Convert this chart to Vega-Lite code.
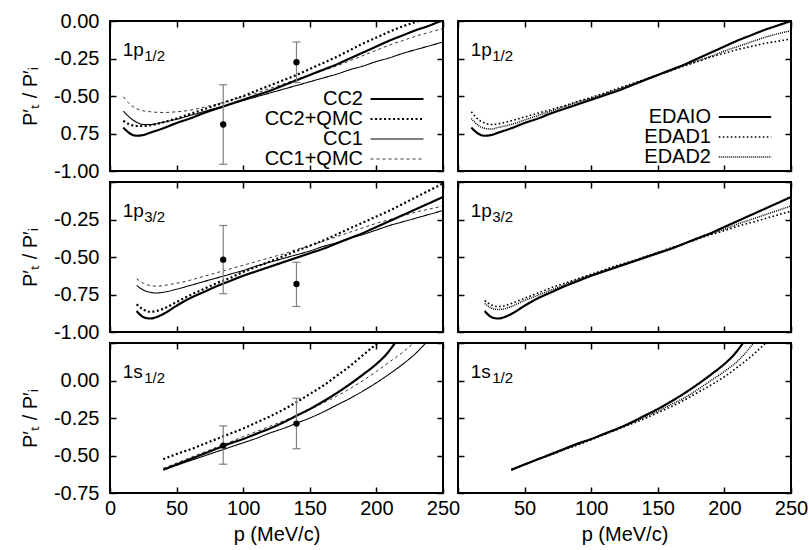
{
"$schema": "https://vega.github.io/schema/vega-lite/v6.json",
"padding": {"left": 19, "top": 10, "right": 8, "bottom": 4},
"config": {
  "locale": {"number": {"decimal": ".", "thousands": ",", "grouping": [3], "currency": ["$", ""], "minus": "-"}},
  "view": {"stroke": "black", "strokeWidth": 2},
  "axis": {"grid": false, "domain": false, "tickColor": "black", "tickWidth": 1.5, "tickSize": -6, "labelFont": "Liberation Sans", "labelFontSize": 20, "labelColor": "black", "titleFont": "Liberation Sans", "titleFontSize": 20, "titleFontWeight": "normal", "titleColor": "black", "labelFlush": false, "labelOverlap": false, "labelPadding": 17, "titlePadding": 13}
},
"datasets": {
"labels": [
{"panel":"a","main":"1p","sub":"1/2"},{"panel":"b","main":"1p","sub":"1/2"},
{"panel":"c","main":"1p","sub":"3/2"},{"panel":"d","main":"1p","sub":"3/2"},
{"panel":"e","main":"1s","sub":"1/2"},{"panel":"f","main":"1s","sub":"1/2"}
],
"pts": [
{"panel":"a","p":85,"r":-0.69,"lo":-0.955,"hi":-0.425},
{"panel":"a","p":140,"r":-0.275,"lo":-0.41,"hi":-0.14},
{"panel":"c","p":85,"r":-0.518,"lo":-0.745,"hi":-0.29},
{"panel":"c","p":140,"r":-0.68,"lo":-0.83,"hi":-0.535},
{"panel":"e","p":85,"r":-0.434,"lo":-0.558,"hi":-0.303},
{"panel":"e","p":140,"r":-0.287,"lo":-0.455,"hi":-0.118}
],
"curves": [
{"panel":"a","series":"CC1+QMC","p":10,"r":-0.505},{"panel":"a","series":"CC1+QMC","p":15,"r":-0.555},{"panel":"a","series":"CC1+QMC","p":20,"r":-0.585},{"panel":"a","series":"CC1+QMC","p":30,"r":-0.605},{"panel":"a","series":"CC1+QMC","p":40,"r":-0.61},{"panel":"a","series":"CC1+QMC","p":50,"r":-0.605},{"panel":"a","series":"CC1+QMC","p":60,"r":-0.595},{"panel":"a","series":"CC1+QMC","p":70,"r":-0.575},{"panel":"a","series":"CC1+QMC","p":80,"r":-0.555},{"panel":"a","series":"CC1+QMC","p":90,"r":-0.53},{"panel":"a","series":"CC1+QMC","p":100,"r":-0.505},{"panel":"a","series":"CC1+QMC","p":110,"r":-0.48},{"panel":"a","series":"CC1+QMC","p":120,"r":-0.45},{"panel":"a","series":"CC1+QMC","p":130,"r":-0.42},{"panel":"a","series":"CC1+QMC","p":140,"r":-0.39},{"panel":"a","series":"CC1+QMC","p":150,"r":-0.36},{"panel":"a","series":"CC1+QMC","p":160,"r":-0.33},{"panel":"a","series":"CC1+QMC","p":170,"r":-0.3},{"panel":"a","series":"CC1+QMC","p":180,"r":-0.265},{"panel":"a","series":"CC1+QMC","p":190,"r":-0.23},{"panel":"a","series":"CC1+QMC","p":200,"r":-0.195},{"panel":"a","series":"CC1+QMC","p":210,"r":-0.16},{"panel":"a","series":"CC1+QMC","p":220,"r":-0.13},{"panel":"a","series":"CC1+QMC","p":230,"r":-0.1},{"panel":"a","series":"CC1+QMC","p":240,"r":-0.075},{"panel":"a","series":"CC1+QMC","p":250,"r":-0.05},
{"panel":"a","series":"CC1","p":10,"r":-0.6},{"panel":"a","series":"CC1","p":15,"r":-0.645},{"panel":"a","series":"CC1","p":20,"r":-0.675},{"panel":"a","series":"CC1","p":25,"r":-0.69},{"panel":"a","series":"CC1","p":30,"r":-0.69},{"panel":"a","series":"CC1","p":40,"r":-0.675},{"panel":"a","series":"CC1","p":50,"r":-0.655},{"panel":"a","series":"CC1","p":60,"r":-0.63},{"panel":"a","series":"CC1","p":70,"r":-0.605},{"panel":"a","series":"CC1","p":80,"r":-0.58},{"panel":"a","series":"CC1","p":90,"r":-0.555},{"panel":"a","series":"CC1","p":100,"r":-0.53},{"panel":"a","series":"CC1","p":110,"r":-0.505},{"panel":"a","series":"CC1","p":120,"r":-0.48},{"panel":"a","series":"CC1","p":130,"r":-0.455},{"panel":"a","series":"CC1","p":140,"r":-0.43},{"panel":"a","series":"CC1","p":150,"r":-0.405},{"panel":"a","series":"CC1","p":160,"r":-0.38},{"panel":"a","series":"CC1","p":170,"r":-0.355},{"panel":"a","series":"CC1","p":180,"r":-0.325},{"panel":"a","series":"CC1","p":190,"r":-0.3},{"panel":"a","series":"CC1","p":200,"r":-0.27},{"panel":"a","series":"CC1","p":210,"r":-0.245},{"panel":"a","series":"CC1","p":220,"r":-0.215},{"panel":"a","series":"CC1","p":230,"r":-0.19},{"panel":"a","series":"CC1","p":240,"r":-0.165},{"panel":"a","series":"CC1","p":250,"r":-0.14},
{"panel":"a","series":"CC2+QMC","p":10,"r":-0.665},{"panel":"a","series":"CC2+QMC","p":15,"r":-0.69},{"panel":"a","series":"CC2+QMC","p":20,"r":-0.7},{"panel":"a","series":"CC2+QMC","p":25,"r":-0.7},{"panel":"a","series":"CC2+QMC","p":30,"r":-0.695},{"panel":"a","series":"CC2+QMC","p":40,"r":-0.675},{"panel":"a","series":"CC2+QMC","p":50,"r":-0.65},{"panel":"a","series":"CC2+QMC","p":60,"r":-0.62},{"panel":"a","series":"CC2+QMC","p":70,"r":-0.59},{"panel":"a","series":"CC2+QMC","p":80,"r":-0.56},{"panel":"a","series":"CC2+QMC","p":90,"r":-0.53},{"panel":"a","series":"CC2+QMC","p":100,"r":-0.5},{"panel":"a","series":"CC2+QMC","p":110,"r":-0.465},{"panel":"a","series":"CC2+QMC","p":120,"r":-0.43},{"panel":"a","series":"CC2+QMC","p":130,"r":-0.395},{"panel":"a","series":"CC2+QMC","p":140,"r":-0.36},{"panel":"a","series":"CC2+QMC","p":150,"r":-0.32},{"panel":"a","series":"CC2+QMC","p":160,"r":-0.28},{"panel":"a","series":"CC2+QMC","p":170,"r":-0.24},{"panel":"a","series":"CC2+QMC","p":180,"r":-0.195},{"panel":"a","series":"CC2+QMC","p":190,"r":-0.15},{"panel":"a","series":"CC2+QMC","p":200,"r":-0.11},{"panel":"a","series":"CC2+QMC","p":210,"r":-0.07},{"panel":"a","series":"CC2+QMC","p":220,"r":-0.035},{"panel":"a","series":"CC2+QMC","p":232,"r":0},
{"panel":"a","series":"CC2","p":10,"r":-0.71},{"panel":"a","series":"CC2","p":15,"r":-0.75},{"panel":"a","series":"CC2","p":20,"r":-0.765},{"panel":"a","series":"CC2","p":25,"r":-0.76},{"panel":"a","series":"CC2","p":30,"r":-0.745},{"panel":"a","series":"CC2","p":40,"r":-0.715},{"panel":"a","series":"CC2","p":50,"r":-0.68},{"panel":"a","series":"CC2","p":60,"r":-0.65},{"panel":"a","series":"CC2","p":70,"r":-0.615},{"panel":"a","series":"CC2","p":80,"r":-0.585},{"panel":"a","series":"CC2","p":90,"r":-0.555},{"panel":"a","series":"CC2","p":100,"r":-0.525},{"panel":"a","series":"CC2","p":110,"r":-0.495},{"panel":"a","series":"CC2","p":120,"r":-0.465},{"panel":"a","series":"CC2","p":130,"r":-0.43},{"panel":"a","series":"CC2","p":140,"r":-0.395},{"panel":"a","series":"CC2","p":150,"r":-0.36},{"panel":"a","series":"CC2","p":160,"r":-0.325},{"panel":"a","series":"CC2","p":170,"r":-0.29},{"panel":"a","series":"CC2","p":180,"r":-0.25},{"panel":"a","series":"CC2","p":190,"r":-0.21},{"panel":"a","series":"CC2","p":200,"r":-0.17},{"panel":"a","series":"CC2","p":210,"r":-0.13},{"panel":"a","series":"CC2","p":220,"r":-0.095},{"panel":"a","series":"CC2","p":230,"r":-0.06},{"panel":"a","series":"CC2","p":240,"r":-0.03},{"panel":"a","series":"CC2","p":248,"r":0},

{"panel":"b","series":"EDAD2","p":10,"r":-0.65},{"panel":"b","series":"EDAD2","p":15,"r":-0.695},{"panel":"b","series":"EDAD2","p":20,"r":-0.715},{"panel":"b","series":"EDAD2","p":25,"r":-0.72},{"panel":"b","series":"EDAD2","p":30,"r":-0.71},{"panel":"b","series":"EDAD2","p":40,"r":-0.69},{"panel":"b","series":"EDAD2","p":50,"r":-0.66},{"panel":"b","series":"EDAD2","p":60,"r":-0.63},{"panel":"b","series":"EDAD2","p":70,"r":-0.6},{"panel":"b","series":"EDAD2","p":80,"r":-0.57},{"panel":"b","series":"EDAD2","p":90,"r":-0.54},{"panel":"b","series":"EDAD2","p":100,"r":-0.515},{"panel":"b","series":"EDAD2","p":110,"r":-0.485},{"panel":"b","series":"EDAD2","p":120,"r":-0.455},{"panel":"b","series":"EDAD2","p":130,"r":-0.425},{"panel":"b","series":"EDAD2","p":140,"r":-0.39},{"panel":"b","series":"EDAD2","p":150,"r":-0.36},{"panel":"b","series":"EDAD2","p":160,"r":-0.33},{"panel":"b","series":"EDAD2","p":170,"r":-0.295},{"panel":"b","series":"EDAD2","p":180,"r":-0.265},{"panel":"b","series":"EDAD2","p":190,"r":-0.235},{"panel":"b","series":"EDAD2","p":200,"r":-0.2},{"panel":"b","series":"EDAD2","p":210,"r":-0.17},{"panel":"b","series":"EDAD2","p":220,"r":-0.14},{"panel":"b","series":"EDAD2","p":230,"r":-0.11},{"panel":"b","series":"EDAD2","p":240,"r":-0.085},{"panel":"b","series":"EDAD2","p":250,"r":-0.065},
{"panel":"b","series":"EDAD1","p":10,"r":-0.605},{"panel":"b","series":"EDAD1","p":15,"r":-0.655},{"panel":"b","series":"EDAD1","p":20,"r":-0.68},{"panel":"b","series":"EDAD1","p":25,"r":-0.69},{"panel":"b","series":"EDAD1","p":30,"r":-0.685},{"panel":"b","series":"EDAD1","p":40,"r":-0.665},{"panel":"b","series":"EDAD1","p":50,"r":-0.64},{"panel":"b","series":"EDAD1","p":60,"r":-0.615},{"panel":"b","series":"EDAD1","p":70,"r":-0.59},{"panel":"b","series":"EDAD1","p":80,"r":-0.565},{"panel":"b","series":"EDAD1","p":90,"r":-0.535},{"panel":"b","series":"EDAD1","p":100,"r":-0.51},{"panel":"b","series":"EDAD1","p":110,"r":-0.48},{"panel":"b","series":"EDAD1","p":120,"r":-0.45},{"panel":"b","series":"EDAD1","p":130,"r":-0.42},{"panel":"b","series":"EDAD1","p":140,"r":-0.39},{"panel":"b","series":"EDAD1","p":150,"r":-0.36},{"panel":"b","series":"EDAD1","p":160,"r":-0.33},{"panel":"b","series":"EDAD1","p":170,"r":-0.3},{"panel":"b","series":"EDAD1","p":180,"r":-0.27},{"panel":"b","series":"EDAD1","p":190,"r":-0.24},{"panel":"b","series":"EDAD1","p":200,"r":-0.215},{"panel":"b","series":"EDAD1","p":210,"r":-0.19},{"panel":"b","series":"EDAD1","p":220,"r":-0.17},{"panel":"b","series":"EDAD1","p":230,"r":-0.15},{"panel":"b","series":"EDAD1","p":240,"r":-0.135},{"panel":"b","series":"EDAD1","p":250,"r":-0.12},
{"panel":"b","series":"EDAIO","p":10,"r":-0.71},{"panel":"b","series":"EDAIO","p":15,"r":-0.75},{"panel":"b","series":"EDAIO","p":20,"r":-0.765},{"panel":"b","series":"EDAIO","p":25,"r":-0.76},{"panel":"b","series":"EDAIO","p":30,"r":-0.745},{"panel":"b","series":"EDAIO","p":40,"r":-0.715},{"panel":"b","series":"EDAIO","p":50,"r":-0.68},{"panel":"b","series":"EDAIO","p":60,"r":-0.65},{"panel":"b","series":"EDAIO","p":70,"r":-0.615},{"panel":"b","series":"EDAIO","p":80,"r":-0.585},{"panel":"b","series":"EDAIO","p":90,"r":-0.555},{"panel":"b","series":"EDAIO","p":100,"r":-0.525},{"panel":"b","series":"EDAIO","p":110,"r":-0.495},{"panel":"b","series":"EDAIO","p":120,"r":-0.465},{"panel":"b","series":"EDAIO","p":130,"r":-0.43},{"panel":"b","series":"EDAIO","p":140,"r":-0.395},{"panel":"b","series":"EDAIO","p":150,"r":-0.36},{"panel":"b","series":"EDAIO","p":160,"r":-0.325},{"panel":"b","series":"EDAIO","p":170,"r":-0.29},{"panel":"b","series":"EDAIO","p":180,"r":-0.25},{"panel":"b","series":"EDAIO","p":190,"r":-0.21},{"panel":"b","series":"EDAIO","p":200,"r":-0.17},{"panel":"b","series":"EDAIO","p":210,"r":-0.13},{"panel":"b","series":"EDAIO","p":220,"r":-0.095},{"panel":"b","series":"EDAIO","p":230,"r":-0.06},{"panel":"b","series":"EDAIO","p":240,"r":-0.03},{"panel":"b","series":"EDAIO","p":250,"r":0},

{"panel":"c","series":"CC1+QMC","p":20,"r":-0.645},{"panel":"c","series":"CC1+QMC","p":25,"r":-0.675},{"panel":"c","series":"CC1+QMC","p":30,"r":-0.69},{"panel":"c","series":"CC1+QMC","p":35,"r":-0.695},{"panel":"c","series":"CC1+QMC","p":40,"r":-0.69},{"panel":"c","series":"CC1+QMC","p":50,"r":-0.675},{"panel":"c","series":"CC1+QMC","p":60,"r":-0.655},{"panel":"c","series":"CC1+QMC","p":70,"r":-0.63},{"panel":"c","series":"CC1+QMC","p":80,"r":-0.605},{"panel":"c","series":"CC1+QMC","p":90,"r":-0.58},{"panel":"c","series":"CC1+QMC","p":100,"r":-0.555},{"panel":"c","series":"CC1+QMC","p":110,"r":-0.53},{"panel":"c","series":"CC1+QMC","p":120,"r":-0.505},{"panel":"c","series":"CC1+QMC","p":130,"r":-0.48},{"panel":"c","series":"CC1+QMC","p":140,"r":-0.45},{"panel":"c","series":"CC1+QMC","p":150,"r":-0.425},{"panel":"c","series":"CC1+QMC","p":160,"r":-0.395},{"panel":"c","series":"CC1+QMC","p":170,"r":-0.365},{"panel":"c","series":"CC1+QMC","p":180,"r":-0.335},{"panel":"c","series":"CC1+QMC","p":190,"r":-0.305},{"panel":"c","series":"CC1+QMC","p":200,"r":-0.275},{"panel":"c","series":"CC1+QMC","p":210,"r":-0.25},{"panel":"c","series":"CC1+QMC","p":220,"r":-0.225},{"panel":"c","series":"CC1+QMC","p":230,"r":-0.2},{"panel":"c","series":"CC1+QMC","p":240,"r":-0.18},{"panel":"c","series":"CC1+QMC","p":250,"r":-0.16},
{"panel":"c","series":"CC1","p":20,"r":-0.69},{"panel":"c","series":"CC1","p":25,"r":-0.72},{"panel":"c","series":"CC1","p":30,"r":-0.735},{"panel":"c","series":"CC1","p":35,"r":-0.74},{"panel":"c","series":"CC1","p":40,"r":-0.735},{"panel":"c","series":"CC1","p":50,"r":-0.715},{"panel":"c","series":"CC1","p":60,"r":-0.69},{"panel":"c","series":"CC1","p":70,"r":-0.665},{"panel":"c","series":"CC1","p":80,"r":-0.64},{"panel":"c","series":"CC1","p":90,"r":-0.615},{"panel":"c","series":"CC1","p":100,"r":-0.59},{"panel":"c","series":"CC1","p":110,"r":-0.56},{"panel":"c","series":"CC1","p":120,"r":-0.535},{"panel":"c","series":"CC1","p":130,"r":-0.51},{"panel":"c","series":"CC1","p":140,"r":-0.485},{"panel":"c","series":"CC1","p":150,"r":-0.46},{"panel":"c","series":"CC1","p":160,"r":-0.43},{"panel":"c","series":"CC1","p":170,"r":-0.405},{"panel":"c","series":"CC1","p":180,"r":-0.375},{"panel":"c","series":"CC1","p":190,"r":-0.35},{"panel":"c","series":"CC1","p":200,"r":-0.32},{"panel":"c","series":"CC1","p":210,"r":-0.29},{"panel":"c","series":"CC1","p":220,"r":-0.265},{"panel":"c","series":"CC1","p":230,"r":-0.24},{"panel":"c","series":"CC1","p":240,"r":-0.215},{"panel":"c","series":"CC1","p":250,"r":-0.19},
{"panel":"c","series":"CC2+QMC","p":20,"r":-0.815},{"panel":"c","series":"CC2+QMC","p":25,"r":-0.85},{"panel":"c","series":"CC2+QMC","p":30,"r":-0.865},{"panel":"c","series":"CC2+QMC","p":35,"r":-0.86},{"panel":"c","series":"CC2+QMC","p":40,"r":-0.845},{"panel":"c","series":"CC2+QMC","p":50,"r":-0.8},{"panel":"c","series":"CC2+QMC","p":60,"r":-0.755},{"panel":"c","series":"CC2+QMC","p":70,"r":-0.715},{"panel":"c","series":"CC2+QMC","p":80,"r":-0.675},{"panel":"c","series":"CC2+QMC","p":90,"r":-0.64},{"panel":"c","series":"CC2+QMC","p":100,"r":-0.6},{"panel":"c","series":"CC2+QMC","p":110,"r":-0.565},{"panel":"c","series":"CC2+QMC","p":120,"r":-0.53},{"panel":"c","series":"CC2+QMC","p":130,"r":-0.495},{"panel":"c","series":"CC2+QMC","p":140,"r":-0.46},{"panel":"c","series":"CC2+QMC","p":150,"r":-0.425},{"panel":"c","series":"CC2+QMC","p":160,"r":-0.39},{"panel":"c","series":"CC2+QMC","p":170,"r":-0.35},{"panel":"c","series":"CC2+QMC","p":180,"r":-0.31},{"panel":"c","series":"CC2+QMC","p":190,"r":-0.27},{"panel":"c","series":"CC2+QMC","p":200,"r":-0.23},{"panel":"c","series":"CC2+QMC","p":210,"r":-0.19},{"panel":"c","series":"CC2+QMC","p":220,"r":-0.145},{"panel":"c","series":"CC2+QMC","p":230,"r":-0.1},{"panel":"c","series":"CC2+QMC","p":240,"r":-0.055},{"panel":"c","series":"CC2+QMC","p":250,"r":-0.01},
{"panel":"c","series":"CC2","p":20,"r":-0.86},{"panel":"c","series":"CC2","p":25,"r":-0.9},{"panel":"c","series":"CC2","p":30,"r":-0.91},{"panel":"c","series":"CC2","p":35,"r":-0.9},{"panel":"c","series":"CC2","p":40,"r":-0.88},{"panel":"c","series":"CC2","p":50,"r":-0.825},{"panel":"c","series":"CC2","p":60,"r":-0.775},{"panel":"c","series":"CC2","p":70,"r":-0.735},{"panel":"c","series":"CC2","p":80,"r":-0.695},{"panel":"c","series":"CC2","p":90,"r":-0.66},{"panel":"c","series":"CC2","p":100,"r":-0.625},{"panel":"c","series":"CC2","p":110,"r":-0.595},{"panel":"c","series":"CC2","p":120,"r":-0.565},{"panel":"c","series":"CC2","p":130,"r":-0.535},{"panel":"c","series":"CC2","p":140,"r":-0.505},{"panel":"c","series":"CC2","p":150,"r":-0.475},{"panel":"c","series":"CC2","p":160,"r":-0.445},{"panel":"c","series":"CC2","p":170,"r":-0.41},{"panel":"c","series":"CC2","p":180,"r":-0.375},{"panel":"c","series":"CC2","p":190,"r":-0.34},{"panel":"c","series":"CC2","p":200,"r":-0.3},{"panel":"c","series":"CC2","p":210,"r":-0.26},{"panel":"c","series":"CC2","p":220,"r":-0.22},{"panel":"c","series":"CC2","p":230,"r":-0.18},{"panel":"c","series":"CC2","p":240,"r":-0.14},{"panel":"c","series":"CC2","p":250,"r":-0.1},

{"panel":"d","series":"EDAD2","p":20,"r":-0.81},{"panel":"d","series":"EDAD2","p":25,"r":-0.84},{"panel":"d","series":"EDAD2","p":30,"r":-0.85},{"panel":"d","series":"EDAD2","p":35,"r":-0.845},{"panel":"d","series":"EDAD2","p":40,"r":-0.83},{"panel":"d","series":"EDAD2","p":50,"r":-0.79},{"panel":"d","series":"EDAD2","p":60,"r":-0.755},{"panel":"d","series":"EDAD2","p":70,"r":-0.72},{"panel":"d","series":"EDAD2","p":80,"r":-0.685},{"panel":"d","series":"EDAD2","p":90,"r":-0.65},{"panel":"d","series":"EDAD2","p":100,"r":-0.62},{"panel":"d","series":"EDAD2","p":110,"r":-0.59},{"panel":"d","series":"EDAD2","p":120,"r":-0.56},{"panel":"d","series":"EDAD2","p":130,"r":-0.53},{"panel":"d","series":"EDAD2","p":140,"r":-0.5},{"panel":"d","series":"EDAD2","p":150,"r":-0.47},{"panel":"d","series":"EDAD2","p":160,"r":-0.44},{"panel":"d","series":"EDAD2","p":170,"r":-0.41},{"panel":"d","series":"EDAD2","p":180,"r":-0.375},{"panel":"d","series":"EDAD2","p":190,"r":-0.345},{"panel":"d","series":"EDAD2","p":200,"r":-0.315},{"panel":"d","series":"EDAD2","p":210,"r":-0.28},{"panel":"d","series":"EDAD2","p":220,"r":-0.25},{"panel":"d","series":"EDAD2","p":230,"r":-0.22},{"panel":"d","series":"EDAD2","p":240,"r":-0.19},{"panel":"d","series":"EDAD2","p":250,"r":-0.16},
{"panel":"d","series":"EDAD1","p":20,"r":-0.79},{"panel":"d","series":"EDAD1","p":25,"r":-0.82},{"panel":"d","series":"EDAD1","p":30,"r":-0.83},{"panel":"d","series":"EDAD1","p":35,"r":-0.825},{"panel":"d","series":"EDAD1","p":40,"r":-0.81},{"panel":"d","series":"EDAD1","p":50,"r":-0.775},{"panel":"d","series":"EDAD1","p":60,"r":-0.74},{"panel":"d","series":"EDAD1","p":70,"r":-0.705},{"panel":"d","series":"EDAD1","p":80,"r":-0.675},{"panel":"d","series":"EDAD1","p":90,"r":-0.645},{"panel":"d","series":"EDAD1","p":100,"r":-0.615},{"panel":"d","series":"EDAD1","p":110,"r":-0.585},{"panel":"d","series":"EDAD1","p":120,"r":-0.555},{"panel":"d","series":"EDAD1","p":130,"r":-0.53},{"panel":"d","series":"EDAD1","p":140,"r":-0.5},{"panel":"d","series":"EDAD1","p":150,"r":-0.47},{"panel":"d","series":"EDAD1","p":160,"r":-0.44},{"panel":"d","series":"EDAD1","p":170,"r":-0.41},{"panel":"d","series":"EDAD1","p":180,"r":-0.38},{"panel":"d","series":"EDAD1","p":190,"r":-0.35},{"panel":"d","series":"EDAD1","p":200,"r":-0.325},{"panel":"d","series":"EDAD1","p":210,"r":-0.295},{"panel":"d","series":"EDAD1","p":220,"r":-0.27},{"panel":"d","series":"EDAD1","p":230,"r":-0.245},{"panel":"d","series":"EDAD1","p":240,"r":-0.22},{"panel":"d","series":"EDAD1","p":250,"r":-0.195},
{"panel":"d","series":"EDAIO","p":20,"r":-0.86},{"panel":"d","series":"EDAIO","p":25,"r":-0.9},{"panel":"d","series":"EDAIO","p":30,"r":-0.91},{"panel":"d","series":"EDAIO","p":35,"r":-0.9},{"panel":"d","series":"EDAIO","p":40,"r":-0.88},{"panel":"d","series":"EDAIO","p":50,"r":-0.825},{"panel":"d","series":"EDAIO","p":60,"r":-0.775},{"panel":"d","series":"EDAIO","p":70,"r":-0.735},{"panel":"d","series":"EDAIO","p":80,"r":-0.695},{"panel":"d","series":"EDAIO","p":90,"r":-0.66},{"panel":"d","series":"EDAIO","p":100,"r":-0.625},{"panel":"d","series":"EDAIO","p":110,"r":-0.595},{"panel":"d","series":"EDAIO","p":120,"r":-0.565},{"panel":"d","series":"EDAIO","p":130,"r":-0.535},{"panel":"d","series":"EDAIO","p":140,"r":-0.505},{"panel":"d","series":"EDAIO","p":150,"r":-0.475},{"panel":"d","series":"EDAIO","p":160,"r":-0.445},{"panel":"d","series":"EDAIO","p":170,"r":-0.41},{"panel":"d","series":"EDAIO","p":180,"r":-0.375},{"panel":"d","series":"EDAIO","p":190,"r":-0.34},{"panel":"d","series":"EDAIO","p":200,"r":-0.3},{"panel":"d","series":"EDAIO","p":210,"r":-0.26},{"panel":"d","series":"EDAIO","p":220,"r":-0.22},{"panel":"d","series":"EDAIO","p":230,"r":-0.18},{"panel":"d","series":"EDAIO","p":240,"r":-0.14},{"panel":"d","series":"EDAIO","p":250,"r":-0.1},

{"panel":"e","series":"CC1+QMC","p":40,"r":-0.585},{"panel":"e","series":"CC1+QMC","p":50,"r":-0.55},{"panel":"e","series":"CC1+QMC","p":60,"r":-0.515},{"panel":"e","series":"CC1+QMC","p":70,"r":-0.48},{"panel":"e","series":"CC1+QMC","p":80,"r":-0.445},{"panel":"e","series":"CC1+QMC","p":90,"r":-0.41},{"panel":"e","series":"CC1+QMC","p":100,"r":-0.375},{"panel":"e","series":"CC1+QMC","p":110,"r":-0.34},{"panel":"e","series":"CC1+QMC","p":120,"r":-0.305},{"panel":"e","series":"CC1+QMC","p":130,"r":-0.27},{"panel":"e","series":"CC1+QMC","p":140,"r":-0.235},{"panel":"e","series":"CC1+QMC","p":150,"r":-0.195},{"panel":"e","series":"CC1+QMC","p":160,"r":-0.15},{"panel":"e","series":"CC1+QMC","p":170,"r":-0.105},{"panel":"e","series":"CC1+QMC","p":180,"r":-0.055},{"panel":"e","series":"CC1+QMC","p":190,"r":0},{"panel":"e","series":"CC1+QMC","p":200,"r":0.06},{"panel":"e","series":"CC1+QMC","p":210,"r":0.125},{"panel":"e","series":"CC1+QMC","p":220,"r":0.19},{"panel":"e","series":"CC1+QMC","p":228,"r":0.25},
{"panel":"e","series":"CC1","p":40,"r":-0.595},{"panel":"e","series":"CC1","p":50,"r":-0.565},{"panel":"e","series":"CC1","p":60,"r":-0.535},{"panel":"e","series":"CC1","p":70,"r":-0.505},{"panel":"e","series":"CC1","p":80,"r":-0.475},{"panel":"e","series":"CC1","p":90,"r":-0.445},{"panel":"e","series":"CC1","p":100,"r":-0.415},{"panel":"e","series":"CC1","p":110,"r":-0.385},{"panel":"e","series":"CC1","p":120,"r":-0.35},{"panel":"e","series":"CC1","p":130,"r":-0.32},{"panel":"e","series":"CC1","p":140,"r":-0.285},{"panel":"e","series":"CC1","p":150,"r":-0.25},{"panel":"e","series":"CC1","p":160,"r":-0.21},{"panel":"e","series":"CC1","p":170,"r":-0.165},{"panel":"e","series":"CC1","p":180,"r":-0.12},{"panel":"e","series":"CC1","p":190,"r":-0.07},{"panel":"e","series":"CC1","p":200,"r":-0.015},{"panel":"e","series":"CC1","p":210,"r":0.045},{"panel":"e","series":"CC1","p":220,"r":0.11},{"panel":"e","series":"CC1","p":230,"r":0.185},{"panel":"e","series":"CC1","p":237,"r":0.25},
{"panel":"e","series":"CC2+QMC","p":40,"r":-0.525},{"panel":"e","series":"CC2+QMC","p":50,"r":-0.49},{"panel":"e","series":"CC2+QMC","p":60,"r":-0.46},{"panel":"e","series":"CC2+QMC","p":70,"r":-0.425},{"panel":"e","series":"CC2+QMC","p":80,"r":-0.39},{"panel":"e","series":"CC2+QMC","p":90,"r":-0.355},{"panel":"e","series":"CC2+QMC","p":100,"r":-0.32},{"panel":"e","series":"CC2+QMC","p":110,"r":-0.28},{"panel":"e","series":"CC2+QMC","p":120,"r":-0.24},{"panel":"e","series":"CC2+QMC","p":130,"r":-0.195},{"panel":"e","series":"CC2+QMC","p":140,"r":-0.145},{"panel":"e","series":"CC2+QMC","p":150,"r":-0.09},{"panel":"e","series":"CC2+QMC","p":160,"r":-0.035},{"panel":"e","series":"CC2+QMC","p":170,"r":0.03},{"panel":"e","series":"CC2+QMC","p":180,"r":0.095},{"panel":"e","series":"CC2+QMC","p":190,"r":0.17},{"panel":"e","series":"CC2+QMC","p":201,"r":0.25},
{"panel":"e","series":"CC2","p":40,"r":-0.595},{"panel":"e","series":"CC2","p":50,"r":-0.56},{"panel":"e","series":"CC2","p":60,"r":-0.525},{"panel":"e","series":"CC2","p":70,"r":-0.49},{"panel":"e","series":"CC2","p":80,"r":-0.455},{"panel":"e","series":"CC2","p":90,"r":-0.42},{"panel":"e","series":"CC2","p":100,"r":-0.39},{"panel":"e","series":"CC2","p":110,"r":-0.355},{"panel":"e","series":"CC2","p":120,"r":-0.32},{"panel":"e","series":"CC2","p":130,"r":-0.28},{"panel":"e","series":"CC2","p":140,"r":-0.235},{"panel":"e","series":"CC2","p":150,"r":-0.19},{"panel":"e","series":"CC2","p":160,"r":-0.14},{"panel":"e","series":"CC2","p":170,"r":-0.085},{"panel":"e","series":"CC2","p":180,"r":-0.025},{"panel":"e","series":"CC2","p":190,"r":0.04},{"panel":"e","series":"CC2","p":200,"r":0.11},{"panel":"e","series":"CC2","p":207,"r":0.17},{"panel":"e","series":"CC2","p":214,"r":0.25},

{"panel":"f","series":"EDAD2","p":40,"r":-0.595},{"panel":"f","series":"EDAD2","p":50,"r":-0.56},{"panel":"f","series":"EDAD2","p":60,"r":-0.525},{"panel":"f","series":"EDAD2","p":70,"r":-0.495},{"panel":"f","series":"EDAD2","p":80,"r":-0.46},{"panel":"f","series":"EDAD2","p":90,"r":-0.425},{"panel":"f","series":"EDAD2","p":100,"r":-0.39},{"panel":"f","series":"EDAD2","p":110,"r":-0.355},{"panel":"f","series":"EDAD2","p":120,"r":-0.32},{"panel":"f","series":"EDAD2","p":130,"r":-0.285},{"panel":"f","series":"EDAD2","p":140,"r":-0.245},{"panel":"f","series":"EDAD2","p":150,"r":-0.205},{"panel":"f","series":"EDAD2","p":160,"r":-0.16},{"panel":"f","series":"EDAD2","p":170,"r":-0.115},{"panel":"f","series":"EDAD2","p":180,"r":-0.06},{"panel":"f","series":"EDAD2","p":190,"r":0},{"panel":"f","series":"EDAD2","p":200,"r":0.06},{"panel":"f","series":"EDAD2","p":210,"r":0.13},{"panel":"f","series":"EDAD2","p":222,"r":0.25},
{"panel":"f","series":"EDAD1","p":40,"r":-0.595},{"panel":"f","series":"EDAD1","p":50,"r":-0.56},{"panel":"f","series":"EDAD1","p":60,"r":-0.525},{"panel":"f","series":"EDAD1","p":70,"r":-0.495},{"panel":"f","series":"EDAD1","p":80,"r":-0.46},{"panel":"f","series":"EDAD1","p":90,"r":-0.43},{"panel":"f","series":"EDAD1","p":100,"r":-0.395},{"panel":"f","series":"EDAD1","p":110,"r":-0.36},{"panel":"f","series":"EDAD1","p":120,"r":-0.325},{"panel":"f","series":"EDAD1","p":130,"r":-0.29},{"panel":"f","series":"EDAD1","p":140,"r":-0.255},{"panel":"f","series":"EDAD1","p":150,"r":-0.215},{"panel":"f","series":"EDAD1","p":160,"r":-0.175},{"panel":"f","series":"EDAD1","p":170,"r":-0.13},{"panel":"f","series":"EDAD1","p":180,"r":-0.08},{"panel":"f","series":"EDAD1","p":190,"r":-0.03},{"panel":"f","series":"EDAD1","p":200,"r":0.025},{"panel":"f","series":"EDAD1","p":210,"r":0.09},{"panel":"f","series":"EDAD1","p":220,"r":0.16},{"panel":"f","series":"EDAD1","p":231,"r":0.25},
{"panel":"f","series":"EDAIO","p":40,"r":-0.595},{"panel":"f","series":"EDAIO","p":50,"r":-0.56},{"panel":"f","series":"EDAIO","p":60,"r":-0.525},{"panel":"f","series":"EDAIO","p":70,"r":-0.49},{"panel":"f","series":"EDAIO","p":80,"r":-0.455},{"panel":"f","series":"EDAIO","p":90,"r":-0.42},{"panel":"f","series":"EDAIO","p":100,"r":-0.39},{"panel":"f","series":"EDAIO","p":110,"r":-0.355},{"panel":"f","series":"EDAIO","p":120,"r":-0.32},{"panel":"f","series":"EDAIO","p":130,"r":-0.28},{"panel":"f","series":"EDAIO","p":140,"r":-0.235},{"panel":"f","series":"EDAIO","p":150,"r":-0.19},{"panel":"f","series":"EDAIO","p":160,"r":-0.14},{"panel":"f","series":"EDAIO","p":170,"r":-0.085},{"panel":"f","series":"EDAIO","p":180,"r":-0.025},{"panel":"f","series":"EDAIO","p":190,"r":0.04},{"panel":"f","series":"EDAIO","p":200,"r":0.11},{"panel":"f","series":"EDAIO","p":207,"r":0.17},{"panel":"f","series":"EDAIO","p":214,"r":0.25}
]
},
"columns": 2,
"spacing": {"row": 11, "column": 15},
"bounds": "flush",
"resolve": {"scale": {"x": "independent", "y": "independent", "strokeDash": "independent", "strokeWidth": "independent"}, "legend": {"strokeDash": "independent", "strokeWidth": "independent"}},
"concat": [
{
 "width": 333, "height": 150,
 "layer": [
  {"data": {"name": "curves"}, "transform": [{"filter": "datum.panel == 'a'"}],
   "mark": {"type": "line", "color": "black", "interpolate": "monotone", "clip": true},
   "encoding": {
    "x": {"field": "p", "type": "quantitative", "scale": {"domain": [0, 250], "nice": false, "zero": false}, "axis": {"orient": "bottom", "values": [0, 50, 100, 150, 200, 250], "labels": false, "title": null}},
    "y": {"field": "r", "type": "quantitative", "scale": {"domain": [-1, 0], "nice": false, "zero": false}, "axis": {"orient": "left", "values": [-1, -0.75, -0.5, -0.25, 0], "format": ".2f", "labelExpr": "datum.value == -0.75 ? '0.75' : datum.label", "title": "P′ₜ / P′ᵢ"}},
    "strokeDash": {"field": "series", "type": "nominal", "scale": {"domain": ["CC2", "CC2+QMC", "CC1", "CC1+QMC"], "range": [[1, 0], [2, 2.5], [1, 0], [3, 3]]}, "legend": {"orient": "none", "legendX": 277, "legendY": 68, "direction": "vertical", "title": null, "labelAlign": "right", "labelOffset": -44, "symbolType": "M-5,0H5", "symbolSize": 112, "symbolStrokeColor": "black", "labelFontSize": 20, "labelFont": "Liberation Sans", "labelColor": "black", "rowPadding": 0, "padding": 0, "labelLimit": 0}},
    "strokeWidth": {"field": "series", "type": "ordinal", "scale": {"type": "ordinal", "domain": ["CC2", "CC2+QMC", "CC1", "CC1+QMC"], "range": [2.2, 2.2, 1.1, 0.8]}, "legend": {"orient": "none", "legendX": 277, "legendY": 68, "direction": "vertical", "title": null, "labelAlign": "right", "labelOffset": -44, "symbolType": "M-5,0H5", "symbolSize": 112, "symbolStrokeColor": "black", "labelFontSize": 20, "labelFont": "Liberation Sans", "labelColor": "black", "rowPadding": 0, "padding": 0, "labelLimit": 0}}
   }},
  {"data": {"name": "curves"}, "transform": [{"filter": "datum.panel == 'a'"}],
   "mark": {"type": "point", "opacity": 0},
   "encoding": {
    "x": {"field": "p", "type": "quantitative", "scale": {"domain": [0, 250], "nice": false, "zero": false}, "axis": {"orient": "top", "values": [0, 50, 100, 150, 200, 250], "labels": false, "title": null}},
    "y": {"field": "r", "type": "quantitative", "scale": {"domain": [-1, 0], "nice": false, "zero": false}, "axis": {"orient": "right", "values": [-1, -0.75, -0.5, -0.25, 0], "labels": false, "title": null}}
   }},
  {"data": {"name": "pts"}, "transform": [{"filter": "datum.panel == 'a'"}],
   "mark": {"type": "rule", "color": "#808080", "strokeWidth": 1.2},
   "encoding": {"x": {"field": "p", "type": "quantitative", "axis": null}, "y": {"field": "lo", "type": "quantitative", "axis": null}, "y2": {"field": "hi"}}},
  {"data": {"name": "pts"}, "transform": [{"filter": "datum.panel == 'a'"}],
   "mark": {"type": "tick", "orient": "horizontal", "color": "#808080", "size": 8, "thickness": 1.2, "opacity": 1},
   "encoding": {"x": {"field": "p", "type": "quantitative", "axis": null}, "y": {"field": "lo", "type": "quantitative", "axis": null}}},
  {"data": {"name": "pts"}, "transform": [{"filter": "datum.panel == 'a'"}],
   "mark": {"type": "tick", "orient": "horizontal", "color": "#808080", "size": 8, "thickness": 1.2, "opacity": 1},
   "encoding": {"x": {"field": "p", "type": "quantitative", "axis": null}, "y": {"field": "hi", "type": "quantitative", "axis": null}}},
  {"data": {"name": "pts"}, "transform": [{"filter": "datum.panel == 'a'"}],
   "mark": {"type": "circle", "color": "black", "size": 40, "opacity": 1},
   "encoding": {"x": {"field": "p", "type": "quantitative", "axis": null}, "y": {"field": "r", "type": "quantitative", "axis": null}}},
  {"data": {"name": "labels"}, "transform": [{"filter": "datum.panel == 'a'"}],
   "mark": {"type": "text", "align": "left", "baseline": "alphabetic", "fontSize": 19, "font": "Liberation Sans", "color": "black"},
   "encoding": {"x": {"datum": 9.5, "type": "quantitative", "axis": null}, "y": {"datum": -0.23, "type": "quantitative", "axis": null}, "text": {"field": "main"}}},
  {"data": {"name": "labels"}, "transform": [{"filter": "datum.panel == 'a'"}],
   "mark": {"type": "text", "align": "left", "baseline": "alphabetic", "fontSize": 15, "font": "Liberation Sans", "color": "black", "dx": 21.5, "dy": 5.5},
   "encoding": {"x": {"datum": 9.5, "type": "quantitative", "axis": null}, "y": {"datum": -0.23, "type": "quantitative", "axis": null}, "text": {"field": "sub"}}}
 ],
 "resolve": {"axis": {"x": "independent", "y": "independent"}}
},
{
 "width": 333, "height": 150,
 "layer": [
  {"data": {"name": "curves"}, "transform": [{"filter": "datum.panel == 'b'"}],
   "mark": {"type": "line", "color": "black", "interpolate": "monotone", "clip": true},
   "encoding": {
    "x": {"field": "p", "type": "quantitative", "scale": {"domain": [0, 250], "nice": false, "zero": false}, "axis": {"orient": "bottom", "values": [0, 50, 100, 150, 200, 250], "labels": false, "title": null}},
    "y": {"field": "r", "type": "quantitative", "scale": {"domain": [-1, 0], "nice": false, "zero": false}, "axis": {"orient": "left", "values": [-1, -0.75, -0.5, -0.25, 0], "labels": false, "title": null}},
    "strokeDash": {"field": "series", "type": "nominal", "scale": {"domain": ["EDAIO", "EDAD1", "EDAD2"], "range": [[1, 0], [1.6, 2.4], [1, 1]]}, "legend": {"orient": "none", "legendX": 277, "legendY": 86, "direction": "vertical", "title": null, "labelAlign": "right", "labelOffset": -44, "symbolType": "M-5,0H5", "symbolSize": 110, "symbolStrokeColor": "black", "labelFontSize": 20, "labelFont": "Liberation Sans", "labelColor": "black", "rowPadding": 0, "padding": 0, "labelLimit": 0}},
    "strokeWidth": {"field": "series", "type": "ordinal", "scale": {"type": "ordinal", "domain": ["EDAIO", "EDAD1", "EDAD2"], "range": [2.2, 1.6, 1.5]}, "legend": {"orient": "none", "legendX": 277, "legendY": 86, "direction": "vertical", "title": null, "labelAlign": "right", "labelOffset": -44, "symbolType": "M-5,0H5", "symbolSize": 110, "symbolStrokeColor": "black", "labelFontSize": 20, "labelFont": "Liberation Sans", "labelColor": "black", "rowPadding": 0, "padding": 0, "labelLimit": 0}}
   }},
  {"data": {"name": "curves"}, "transform": [{"filter": "datum.panel == 'b'"}],
   "mark": {"type": "point", "opacity": 0},
   "encoding": {
    "x": {"field": "p", "type": "quantitative", "scale": {"domain": [0, 250], "nice": false, "zero": false}, "axis": {"orient": "top", "values": [0, 50, 100, 150, 200, 250], "labels": false, "title": null}},
    "y": {"field": "r", "type": "quantitative", "scale": {"domain": [-1, 0], "nice": false, "zero": false}, "axis": {"orient": "right", "values": [-1, -0.75, -0.5, -0.25, 0], "labels": false, "title": null}}
   }},
  {"data": {"name": "labels"}, "transform": [{"filter": "datum.panel == 'b'"}],
   "mark": {"type": "text", "align": "left", "baseline": "alphabetic", "fontSize": 19, "font": "Liberation Sans", "color": "black"},
   "encoding": {"x": {"datum": 9.5, "type": "quantitative", "axis": null}, "y": {"datum": -0.23, "type": "quantitative", "axis": null}, "text": {"field": "main"}}},
  {"data": {"name": "labels"}, "transform": [{"filter": "datum.panel == 'b'"}],
   "mark": {"type": "text", "align": "left", "baseline": "alphabetic", "fontSize": 15, "font": "Liberation Sans", "color": "black", "dx": 21.5, "dy": 5.5},
   "encoding": {"x": {"datum": 9.5, "type": "quantitative", "axis": null}, "y": {"datum": -0.23, "type": "quantitative", "axis": null}, "text": {"field": "sub"}}}
 ],
 "resolve": {"axis": {"x": "independent", "y": "independent"}}
},
{
 "width": 333, "height": 150,
 "layer": [
  {"data": {"name": "curves"}, "transform": [{"filter": "datum.panel == 'c'"}],
   "mark": {"type": "line", "color": "black", "interpolate": "monotone", "clip": true},
   "encoding": {
    "x": {"field": "p", "type": "quantitative", "scale": {"domain": [0, 250], "nice": false, "zero": false}, "axis": {"orient": "bottom", "values": [0, 50, 100, 150, 200, 250], "labels": false, "title": null}},
    "y": {"field": "r", "type": "quantitative", "scale": {"domain": [-1, 0], "nice": false, "zero": false}, "axis": {"orient": "left", "values": [-1, -0.75, -0.5, -0.25, 0], "format": ".2f", "labelExpr": "datum.value > -0.01 ? '' : datum.label", "title": "P′ₜ / P′ᵢ"}},
    "strokeDash": {"field": "series", "type": "nominal", "scale": {"domain": ["CC2", "CC2+QMC", "CC1", "CC1+QMC"], "range": [[1, 0], [2, 2.5], [1, 0], [3, 3]]}, "legend": null},
    "strokeWidth": {"field": "series", "type": "ordinal", "scale": {"type": "ordinal", "domain": ["CC2", "CC2+QMC", "CC1", "CC1+QMC"], "range": [2.2, 2.2, 1.1, 0.8]}, "legend": null}
   }},
  {"data": {"name": "curves"}, "transform": [{"filter": "datum.panel == 'c'"}],
   "mark": {"type": "point", "opacity": 0},
   "encoding": {
    "x": {"field": "p", "type": "quantitative", "scale": {"domain": [0, 250], "nice": false, "zero": false}, "axis": {"orient": "top", "values": [0, 50, 100, 150, 200, 250], "labels": false, "title": null}},
    "y": {"field": "r", "type": "quantitative", "scale": {"domain": [-1, 0], "nice": false, "zero": false}, "axis": {"orient": "right", "values": [-1, -0.75, -0.5, -0.25, 0], "labels": false, "title": null}}
   }},
  {"data": {"name": "pts"}, "transform": [{"filter": "datum.panel == 'c'"}],
   "mark": {"type": "rule", "color": "#808080", "strokeWidth": 1.2},
   "encoding": {"x": {"field": "p", "type": "quantitative", "axis": null}, "y": {"field": "lo", "type": "quantitative", "axis": null}, "y2": {"field": "hi"}}},
  {"data": {"name": "pts"}, "transform": [{"filter": "datum.panel == 'c'"}],
   "mark": {"type": "tick", "orient": "horizontal", "color": "#808080", "size": 8, "thickness": 1.2, "opacity": 1},
   "encoding": {"x": {"field": "p", "type": "quantitative", "axis": null}, "y": {"field": "lo", "type": "quantitative", "axis": null}}},
  {"data": {"name": "pts"}, "transform": [{"filter": "datum.panel == 'c'"}],
   "mark": {"type": "tick", "orient": "horizontal", "color": "#808080", "size": 8, "thickness": 1.2, "opacity": 1},
   "encoding": {"x": {"field": "p", "type": "quantitative", "axis": null}, "y": {"field": "hi", "type": "quantitative", "axis": null}}},
  {"data": {"name": "pts"}, "transform": [{"filter": "datum.panel == 'c'"}],
   "mark": {"type": "circle", "color": "black", "size": 40, "opacity": 1},
   "encoding": {"x": {"field": "p", "type": "quantitative", "axis": null}, "y": {"field": "r", "type": "quantitative", "axis": null}}},
  {"data": {"name": "labels"}, "transform": [{"filter": "datum.panel == 'c'"}],
   "mark": {"type": "text", "align": "left", "baseline": "alphabetic", "fontSize": 19, "font": "Liberation Sans", "color": "black"},
   "encoding": {"x": {"datum": 9.5, "type": "quantitative", "axis": null}, "y": {"datum": -0.23, "type": "quantitative", "axis": null}, "text": {"field": "main"}}},
  {"data": {"name": "labels"}, "transform": [{"filter": "datum.panel == 'c'"}],
   "mark": {"type": "text", "align": "left", "baseline": "alphabetic", "fontSize": 15, "font": "Liberation Sans", "color": "black", "dx": 21.5, "dy": 5.5},
   "encoding": {"x": {"datum": 9.5, "type": "quantitative", "axis": null}, "y": {"datum": -0.23, "type": "quantitative", "axis": null}, "text": {"field": "sub"}}}
 ],
 "resolve": {"axis": {"x": "independent", "y": "independent"}}
},
{
 "width": 333, "height": 150,
 "layer": [
  {"data": {"name": "curves"}, "transform": [{"filter": "datum.panel == 'd'"}],
   "mark": {"type": "line", "color": "black", "interpolate": "monotone", "clip": true},
   "encoding": {
    "x": {"field": "p", "type": "quantitative", "scale": {"domain": [0, 250], "nice": false, "zero": false}, "axis": {"orient": "bottom", "values": [0, 50, 100, 150, 200, 250], "labels": false, "title": null}},
    "y": {"field": "r", "type": "quantitative", "scale": {"domain": [-1, 0], "nice": false, "zero": false}, "axis": {"orient": "left", "values": [-1, -0.75, -0.5, -0.25, 0], "labels": false, "title": null}},
    "strokeDash": {"field": "series", "type": "nominal", "scale": {"domain": ["EDAIO", "EDAD1", "EDAD2"], "range": [[1, 0], [1.6, 2.4], [1, 1]]}, "legend": null},
    "strokeWidth": {"field": "series", "type": "ordinal", "scale": {"type": "ordinal", "domain": ["EDAIO", "EDAD1", "EDAD2"], "range": [2.2, 1.6, 1.5]}, "legend": null}
   }},
  {"data": {"name": "curves"}, "transform": [{"filter": "datum.panel == 'd'"}],
   "mark": {"type": "point", "opacity": 0},
   "encoding": {
    "x": {"field": "p", "type": "quantitative", "scale": {"domain": [0, 250], "nice": false, "zero": false}, "axis": {"orient": "top", "values": [0, 50, 100, 150, 200, 250], "labels": false, "title": null}},
    "y": {"field": "r", "type": "quantitative", "scale": {"domain": [-1, 0], "nice": false, "zero": false}, "axis": {"orient": "right", "values": [-1, -0.75, -0.5, -0.25, 0], "labels": false, "title": null}}
   }},
  {"data": {"name": "labels"}, "transform": [{"filter": "datum.panel == 'd'"}],
   "mark": {"type": "text", "align": "left", "baseline": "alphabetic", "fontSize": 19, "font": "Liberation Sans", "color": "black"},
   "encoding": {"x": {"datum": 9.5, "type": "quantitative", "axis": null}, "y": {"datum": -0.23, "type": "quantitative", "axis": null}, "text": {"field": "main"}}},
  {"data": {"name": "labels"}, "transform": [{"filter": "datum.panel == 'd'"}],
   "mark": {"type": "text", "align": "left", "baseline": "alphabetic", "fontSize": 15, "font": "Liberation Sans", "color": "black", "dx": 21.5, "dy": 5.5},
   "encoding": {"x": {"datum": 9.5, "type": "quantitative", "axis": null}, "y": {"datum": -0.23, "type": "quantitative", "axis": null}, "text": {"field": "sub"}}}
 ],
 "resolve": {"axis": {"x": "independent", "y": "independent"}}
},
{
 "width": 333, "height": 150,
 "layer": [
  {"data": {"name": "curves"}, "transform": [{"filter": "datum.panel == 'e'"}],
   "mark": {"type": "line", "color": "black", "interpolate": "monotone", "clip": true},
   "encoding": {
    "x": {"field": "p", "type": "quantitative", "scale": {"domain": [0, 250], "nice": false, "zero": false}, "axis": {"orient": "bottom", "values": [0, 50, 100, 150, 200, 250], "title": "p (MeV/c)", "labelPadding": 11, "titlePadding": 6}},
    "y": {"field": "r", "type": "quantitative", "scale": {"domain": [-0.75, 0.25], "nice": false, "zero": false}, "axis": {"orient": "left", "values": [-0.75, -0.5, -0.25, 0, 0.25], "format": ".2f", "labelExpr": "datum.value > 0.2 ? '' : datum.label", "title": "P′ₜ / P′ᵢ"}},
    "strokeDash": {"field": "series", "type": "nominal", "scale": {"domain": ["CC2", "CC2+QMC", "CC1", "CC1+QMC"], "range": [[1, 0], [2, 2.5], [1, 0], [3, 3]]}, "legend": null},
    "strokeWidth": {"field": "series", "type": "ordinal", "scale": {"type": "ordinal", "domain": ["CC2", "CC2+QMC", "CC1", "CC1+QMC"], "range": [2.2, 2.2, 1.1, 0.8]}, "legend": null}
   }},
  {"data": {"name": "curves"}, "transform": [{"filter": "datum.panel == 'e'"}],
   "mark": {"type": "point", "opacity": 0},
   "encoding": {
    "x": {"field": "p", "type": "quantitative", "scale": {"domain": [0, 250], "nice": false, "zero": false}, "axis": {"orient": "top", "values": [0, 50, 100, 150, 200, 250], "labels": false, "title": null}},
    "y": {"field": "r", "type": "quantitative", "scale": {"domain": [-0.75, 0.25], "nice": false, "zero": false}, "axis": {"orient": "right", "values": [-0.75, -0.5, -0.25, 0, 0.25], "labels": false, "title": null}}
   }},
  {"data": {"name": "pts"}, "transform": [{"filter": "datum.panel == 'e'"}],
   "mark": {"type": "rule", "color": "#808080", "strokeWidth": 1.2},
   "encoding": {"x": {"field": "p", "type": "quantitative", "axis": null}, "y": {"field": "lo", "type": "quantitative", "axis": null}, "y2": {"field": "hi"}}},
  {"data": {"name": "pts"}, "transform": [{"filter": "datum.panel == 'e'"}],
   "mark": {"type": "tick", "orient": "horizontal", "color": "#808080", "size": 8, "thickness": 1.2, "opacity": 1},
   "encoding": {"x": {"field": "p", "type": "quantitative", "axis": null}, "y": {"field": "lo", "type": "quantitative", "axis": null}}},
  {"data": {"name": "pts"}, "transform": [{"filter": "datum.panel == 'e'"}],
   "mark": {"type": "tick", "orient": "horizontal", "color": "#808080", "size": 8, "thickness": 1.2, "opacity": 1},
   "encoding": {"x": {"field": "p", "type": "quantitative", "axis": null}, "y": {"field": "hi", "type": "quantitative", "axis": null}}},
  {"data": {"name": "pts"}, "transform": [{"filter": "datum.panel == 'e'"}],
   "mark": {"type": "circle", "color": "black", "size": 40, "opacity": 1},
   "encoding": {"x": {"field": "p", "type": "quantitative", "axis": null}, "y": {"field": "r", "type": "quantitative", "axis": null}}},
  {"data": {"name": "labels"}, "transform": [{"filter": "datum.panel == 'e'"}],
   "mark": {"type": "text", "align": "left", "baseline": "alphabetic", "fontSize": 19, "font": "Liberation Sans", "color": "black"},
   "encoding": {"x": {"datum": 9.5, "type": "quantitative", "axis": null}, "y": {"datum": 0.02, "type": "quantitative", "axis": null}, "text": {"field": "main"}}},
  {"data": {"name": "labels"}, "transform": [{"filter": "datum.panel == 'e'"}],
   "mark": {"type": "text", "align": "left", "baseline": "alphabetic", "fontSize": 15, "font": "Liberation Sans", "color": "black", "dx": 21.5, "dy": 5.5},
   "encoding": {"x": {"datum": 9.5, "type": "quantitative", "axis": null}, "y": {"datum": 0.02, "type": "quantitative", "axis": null}, "text": {"field": "sub"}}}
 ],
 "resolve": {"axis": {"x": "independent", "y": "independent"}}
},
{
 "width": 333, "height": 150,
 "layer": [
  {"data": {"name": "curves"}, "transform": [{"filter": "datum.panel == 'f'"}],
   "mark": {"type": "line", "color": "black", "interpolate": "monotone", "clip": true},
   "encoding": {
    "x": {"field": "p", "type": "quantitative", "scale": {"domain": [0, 250], "nice": false, "zero": false}, "axis": {"orient": "bottom", "values": [0, 50, 100, 150, 200, 250], "labelExpr": "datum.value == 0 ? '' : datum.label", "title": "p (MeV/c)", "labelPadding": 11, "titlePadding": 6}},
    "y": {"field": "r", "type": "quantitative", "scale": {"domain": [-0.75, 0.25], "nice": false, "zero": false}, "axis": {"orient": "left", "values": [-0.75, -0.5, -0.25, 0, 0.25], "labels": false, "title": null}},
    "strokeDash": {"field": "series", "type": "nominal", "scale": {"domain": ["EDAIO", "EDAD1", "EDAD2"], "range": [[1, 0], [1.6, 2.4], [1, 1]]}, "legend": null},
    "strokeWidth": {"field": "series", "type": "ordinal", "scale": {"type": "ordinal", "domain": ["EDAIO", "EDAD1", "EDAD2"], "range": [2.2, 1.6, 1.5]}, "legend": null}
   }},
  {"data": {"name": "curves"}, "transform": [{"filter": "datum.panel == 'f'"}],
   "mark": {"type": "point", "opacity": 0},
   "encoding": {
    "x": {"field": "p", "type": "quantitative", "scale": {"domain": [0, 250], "nice": false, "zero": false}, "axis": {"orient": "top", "values": [0, 50, 100, 150, 200, 250], "labels": false, "title": null}},
    "y": {"field": "r", "type": "quantitative", "scale": {"domain": [-0.75, 0.25], "nice": false, "zero": false}, "axis": {"orient": "right", "values": [-0.75, -0.5, -0.25, 0, 0.25], "labels": false, "title": null}}
   }},
  {"data": {"name": "labels"}, "transform": [{"filter": "datum.panel == 'f'"}],
   "mark": {"type": "text", "align": "left", "baseline": "alphabetic", "fontSize": 19, "font": "Liberation Sans", "color": "black"},
   "encoding": {"x": {"datum": 9.5, "type": "quantitative", "axis": null}, "y": {"datum": 0.02, "type": "quantitative", "axis": null}, "text": {"field": "main"}}},
  {"data": {"name": "labels"}, "transform": [{"filter": "datum.panel == 'f'"}],
   "mark": {"type": "text", "align": "left", "baseline": "alphabetic", "fontSize": 15, "font": "Liberation Sans", "color": "black", "dx": 21.5, "dy": 5.5},
   "encoding": {"x": {"datum": 9.5, "type": "quantitative", "axis": null}, "y": {"datum": 0.02, "type": "quantitative", "axis": null}, "text": {"field": "sub"}}}
 ],
 "resolve": {"axis": {"x": "independent", "y": "independent"}}
}
]
}
